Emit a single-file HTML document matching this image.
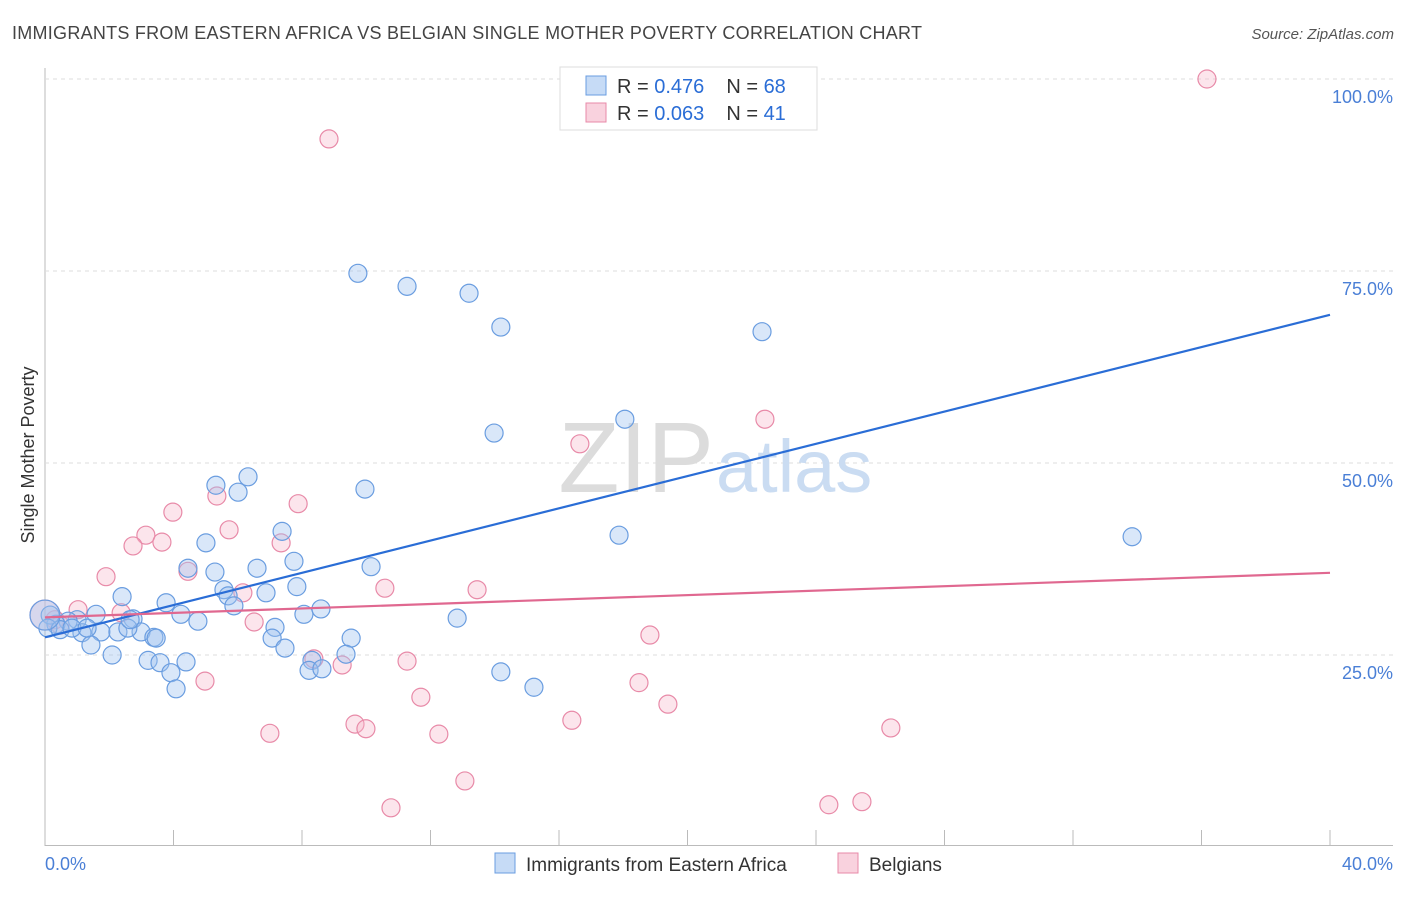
<!DOCTYPE html>
<html><head><meta charset="utf-8"><style>
body{margin:0;background:#fff;font-family:"Liberation Sans",sans-serif}
svg text{font-family:"Liberation Sans",sans-serif}
</style></head><body>
<svg id="c" width="1406" height="892" viewBox="0 0 1406 892">
<text x="12" y="39" font-size="18" fill="#444" textLength="910">IMMIGRANTS FROM EASTERN AFRICA VS BELGIAN SINGLE MOTHER POVERTY CORRELATION CHART</text>
<text x="1394" y="39" font-size="15" fill="#555" font-style="italic" text-anchor="end">Source: ZipAtlas.com</text>
<text x="34" y="455" font-size="18" fill="#333" text-anchor="middle" transform="rotate(-90 34 455)">Single Mother Poverty</text>
<g id="grid"></g>
<text x="714" y="492" font-size="100" fill="#dcdcdc" text-anchor="end" font-family="Liberation Serif">ZIP</text>
<text x="716" y="492" font-size="74" fill="#cadcf2">atlas</text>
<g id="marks"></g>
<g>
<rect x="560" y="67" width="257" height="63" fill="#fff" stroke="#ddd"/>
<rect x="586" y="76" width="20" height="19" fill="rgba(160,195,240,0.6)" stroke="#6a9de0"/>
<rect x="586" y="103" width="20" height="19" fill="rgba(245,180,200,0.6)" stroke="#e88aa8"/>
<text x="617" y="93" font-size="20" fill="#333">R = <tspan fill="#2a6dd6">0.476</tspan><tspan dx="22">N = </tspan><tspan fill="#2a6dd6">68</tspan></text>
<text x="617" y="120" font-size="20" fill="#333">R = <tspan fill="#2a6dd6">0.063</tspan><tspan dx="22">N = </tspan><tspan fill="#2a6dd6"> 41</tspan></text>
</g>
<g>
<rect x="495" y="853" width="20" height="20" fill="rgba(160,195,240,0.6)" stroke="#6a9de0"/>
<text x="526" y="871" font-size="19" fill="#333">Immigrants from Eastern Africa</text>
<rect x="838" y="853" width="20" height="20" fill="rgba(245,180,200,0.6)" stroke="#e88aa8"/>
<text x="869" y="871" font-size="19" fill="#333">Belgians</text>
</g>
</svg>
<script>
const blueX=[9.74,11.27,13.2,14.19,22.32,18.05,13.98,6.32,5.32,6.01,9.96,17.87,33.84,5.01,7.38,7.75,4.45,5.29,6.6,10.15,5.57,5.7,5.88,6.88,7.84,3.77,4.23,4.76,8.06,8.59,2.4,1.59,2.74,1.0,0.72,0.34,0.16,0.09,0.47,1.15,1.74,2.27,2.99,3.39,1.43,2.09,3.46,7.16,7.07,7.47,9.53,12.83,3.21,3.58,4.39,3.92,4.08,8.31,8.22,8.62,9.37,14.19,15.22,0.84,1.31,2.58,2.65,0];
const blueY=[74.7,73.0,72.1,67.7,67.1,55.7,53.9,48.2,47.1,46.2,46.6,40.6,40.4,39.6,41.1,37.2,36.3,35.8,36.3,36.5,33.5,32.7,31.4,33.1,33.9,31.8,30.3,29.4,30.3,31.0,32.6,30.3,29.7,29.6,29.4,29.0,30.2,28.5,28.3,27.9,28.0,28.0,28.0,27.3,26.3,25.0,27.2,28.6,27.2,25.9,27.2,29.8,24.3,24.0,24.1,22.7,20.6,24.3,23.0,23.2,25.1,22.8,20.8,28.5,28.5,28.5,29.6,30.2];
const pinkX=[36.17,8.84,16.65,22.41,5.35,3.98,5.73,7.88,3.14,3.64,2.74,7.35,1.9,4.45,6.16,10.58,13.45,1.03,2.37,0.31,6.51,18.83,8.37,9.25,11.27,4.98,18.49,19.39,11.7,16.4,9.65,9.99,7.0,12.26,26.33,13.07,10.77,24.4,25.43,0.47,0];
const pinkY=[100.0,92.2,52.5,55.7,45.7,43.6,41.3,44.7,40.6,39.7,39.2,39.6,35.2,35.9,33.1,33.7,33.5,30.9,30.5,29.6,29.3,27.6,24.5,23.7,24.2,21.6,21.4,18.6,19.5,16.5,16.0,15.4,14.8,14.7,15.5,8.6,5.1,5.5,5.9,28.9,30.2];
const blueTrend=[27.3,69.3];
const pinkTrend=[29.9,35.7];
const yTicks=[25,50,75,100];
const yTickLabels=["25.0%","50.0%","75.0%","100.0%"];
const xTicks=[0,4,8,12,16,20,24,28,32,36,40];
const NS="http://www.w3.org/2000/svg";
const X=v=>45+v*32.125, Y=v=>847-v*7.68;
function mk(t,a,p){const e=document.createElementNS(NS,t);for(const k in a)e.setAttribute(k,a[k]);p.appendChild(e);return e;}
const g=document.getElementById('grid'), m=document.getElementById('marks');
mk('line',{x1:45,y1:68,x2:45,y2:846,stroke:'#bbb'},g);
mk('line',{x1:45,y1:845.5,x2:1393,y2:845.5,stroke:'#bbb'},g);
yTicks.forEach((t,i)=>{
 const l=mk('line',{x1:45,y1:Y(t),x2:1393,y2:Y(t),stroke:'#ddd','stroke-dasharray':'4 4'},g);
 
 
 const tx=mk('text',{x:1393,y:Y(t)+24,'font-size':18,fill:'#4a7fd6','text-anchor':'end'},g);
 tx.textContent=yTickLabels[i];
 
 
});
xTicks.forEach(t=>{
 const l=mk('line',{x1:X(t),y1:830,x2:X(t),y2:845,stroke:'#bbb'},g);
 
 
});
const x0=mk('text',{x:45,y:870,'font-size':18,fill:'#4a7fd6'},g);x0.textContent='0.0%';


const x1=mk('text',{x:1393,y:870,'font-size':18,fill:'#4a7fd6','text-anchor':'end'},g);x1.textContent='40.0%';


function pts(xs,ys,fill,stroke,name){
 xs.forEach((x,i)=>{
  const big=(x===0);
  const c=mk('circle',{cx:X(x),cy:Y(ys[i]),r:big?15:9,fill:fill,stroke:stroke,'stroke-width':1.2},m);
  
  
 });
}
pts(pinkX,pinkY,'rgba(245,180,200,0.35)','#e88aa8','belgians-point');
pts(blueX,blueY,'rgba(160,195,240,0.4)','#6a9de0','eastern-africa-point');
const bl=mk('line',{x1:X(0),y1:Y(blueTrend[0]),x2:X(40),y2:Y(blueTrend[1]),stroke:'#2a6dd6','stroke-width':2.2},m);


const pl=mk('line',{x1:X(0),y1:Y(pinkTrend[0]),x2:X(40),y2:Y(pinkTrend[1]),stroke:'#e06890','stroke-width':2.2},m);


</script>
</body></html>
